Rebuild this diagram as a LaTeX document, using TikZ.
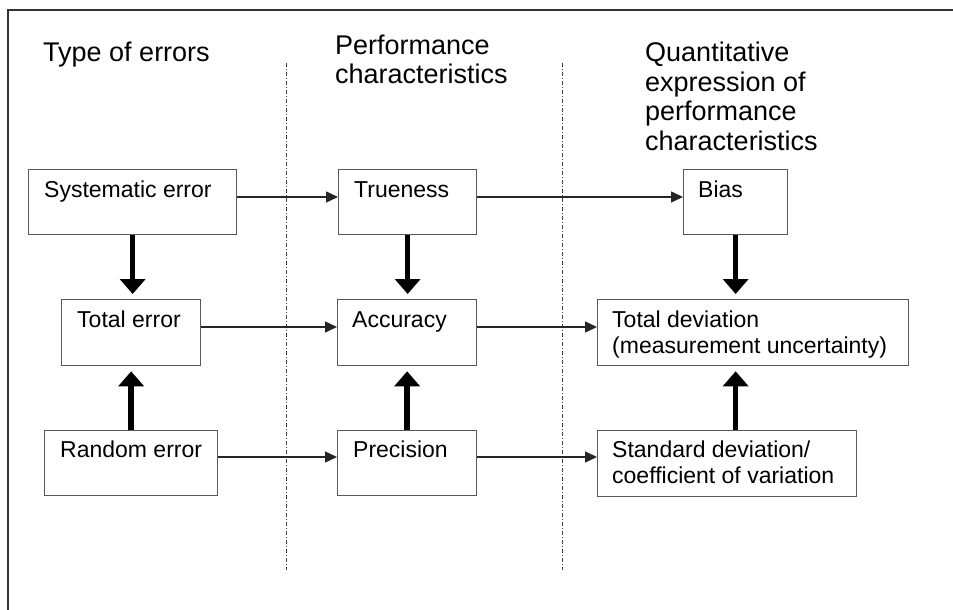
\documentclass[tikz,border=0pt]{standalone}
\usepackage{fontspec}
\setmainfont{Liberation Sans}
\usetikzlibrary{positioning,calc,arrows.meta}

\begin{document}
\begin{tikzpicture}[x=1pt, y=-1pt,
        box/.style={draw=black!65, line width=1.3pt, rectangle, anchor=north west, inner sep=0pt},
        boxtext/.style={anchor=base west, inner sep=0pt, align=left, font=\fontsize{23}{26}\selectfont},
        head/.style={anchor=base west, inner sep=0pt, align=left, font=\fontsize{27}{29.5}\selectfont},
        smallarrow/.style={-{Triangle[length=12pt,width=11pt]}, line width=1.5pt, black!85},
        bigarrow/.style={-{Triangle[length=15pt,width=25pt]}, line width=5.5pt, shorten >=5pt},
        divider/.style={dash pattern=on 4pt off 2pt on 1pt off 2pt, line width=1pt, black!75}
    ]
    \useasboundingbox (0,0) rectangle (953,610);

    % frame and column dividers
    \draw[line width=2pt, black!80] (953,10) -- (8,10) -- (8,610);
    \draw[divider] (286,63) -- (286,570);
    \draw[divider] (562,63) -- (562,570);

    % headings (base = last line)
    \node [head] (hd1) at (43,62) {Type of errors};
    \node [head] (hd2) at (335,84) {Performance\\characteristics};
    \node [head] (hd3) at (645,150) {Quantitative\\expression of\\performance\\characteristics};

    % boxes
    \node [box, minimum width=208, minimum height=65] (sys) at (28,169) {};
    \node [box, minimum width=138, minimum height=65] (true) at (338,169) {};
    \node [box, minimum width=104, minimum height=65] (bias) at (683,169) {};
    \node [box, minimum width=139, minimum height=66] (tot) at (61,299) {};
    \node [box, minimum width=139, minimum height=66] (acc) at (337,299) {};
    \node [box, minimum width=311, minimum height=66] (dev) at (597,299) {};
    \node [box, minimum width=173, minimum height=65] (rnd) at (44,430) {};
    \node [box, minimum width=139, minimum height=65] (prec) at (337,430) {};
    \node [box, minimum width=259, minimum height=66] (std) at (597,430) {};

    % box texts
    \node [boxtext] (syst) at ([shift={(16,28)}]sys.north west) {Systematic error};
    \node [boxtext] (truet) at ([shift={(16,28)}]true.north west) {Trueness};
    \node [boxtext] (biast) at ([shift={(15,28)}]bias.north west) {Bias};
    \node [boxtext] (tott) at ([shift={(16,28)}]tot.north west) {Total error};
    \node [boxtext] (acct) at ([shift={(15,28)}]acc.north west) {Accuracy};
    \node [boxtext] (devt) at ([shift={(15,54)}]dev.north west) {Total deviation\\(measurement uncertainty)};
    \node [boxtext] (rndt) at ([shift={(16,27)}]rnd.north west) {Random error};
    \node [boxtext] (prect) at ([shift={(16,27)}]prec.north west) {Precision};
    \node [boxtext] (stdt) at ([shift={(15,53)}]std.north west) {Standard deviation/\\coefficient of variation};

    % horizontal links
    \draw [smallarrow] (sys.east |- syst.base) -- (true.west |- syst.base);
    \draw [smallarrow] (true.east |- syst.base) -- (bias.west |- syst.base);
    \draw [smallarrow] (tot.east |- tott.base) -- (acc.west |- tott.base);
    \draw [smallarrow] (acc.east |- tott.base) -- (dev.west |- tott.base);
    \draw [smallarrow] (rnd.east |- rndt.base) -- (prec.west |- rndt.base);
    \draw [smallarrow] (prec.east |- rndt.base) -- (std.west |- rndt.base);

    % vertical links
    \draw [bigarrow] (sys.south) -- (sys.south |- tot.north);
    \draw [bigarrow] (rnd.north) -- (rnd.north |- tot.south);
    \draw [bigarrow] (true.south) -- (true.south |- acc.north);
    \draw [bigarrow] (prec.north) -- (prec.north |- acc.south);
    \draw [bigarrow] (bias.south) -- (bias.south |- dev.north);
    \draw [bigarrow] (bias.south |- std.north) -- (bias.south |- dev.south);

\end{tikzpicture}
\end{document}
